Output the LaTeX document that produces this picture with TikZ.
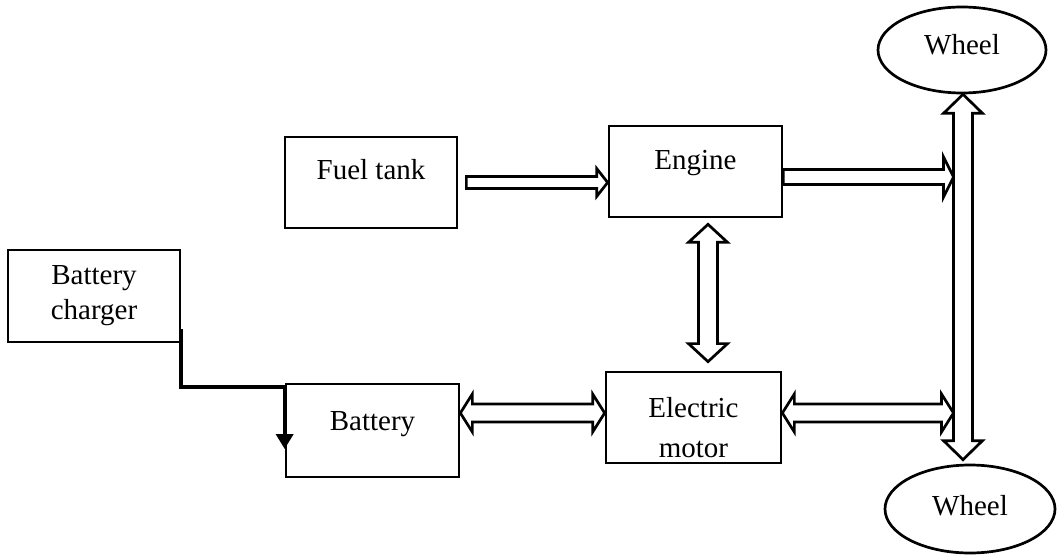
\documentclass[tikz,border=0pt]{standalone}
\usepackage{fontspec}
\setmainfont{Liberation Serif}
\usetikzlibrary{calc, shapes.geometric, arrows.meta}

% Setas em bloco: haste #3, cabeça #4, comprimento da cabeça #5
\newcommand{\setadir}[5]{%
  \draw[bloco] let \p1=(#1), \p2=(#2) in
    (\x1,\y1+#3) -- (\x2-#5,\y1+#3) -- (\x2-#5,\y1+#4) -- (\x2,\y1)
    -- (\x2-#5,\y1-#4) -- (\x2-#5,\y1-#3) -- (\x1,\y1-#3) -- cycle;}
\newcommand{\setadupla}[5]{%
  \draw[bloco] let \p1=(#1), \p2=(#2) in
    (\x1,\y1) -- (\x1+#5,\y1+#4) -- (\x1+#5,\y1+#3) -- (\x2-#5,\y1+#3)
    -- (\x2-#5,\y1+#4) -- (\x2,\y1) -- (\x2-#5,\y1-#4) -- (\x2-#5,\y1-#3)
    -- (\x1+#5,\y1-#3) -- (\x1+#5,\y1-#4) -- cycle;}
\newcommand{\setavert}[5]{%
  \draw[bloco] let \p1=(#1), \p2=(#2) in
    (\x1,\y1) -- (\x1+#4,\y1-#5) -- (\x1+#3,\y1-#5) -- (\x1+#3,\y2+#5)
    -- (\x1+#4,\y2+#5) -- (\x1,\y2) -- (\x1-#4,\y2+#5) -- (\x1-#3,\y2+#5)
    -- (\x1-#3,\y1-#5) -- (\x1-#4,\y1-#5) -- cycle;}

\begin{document}
\begin{tikzpicture}[
    x=0.5pt, y=-0.5pt,
    font=\fontsize{14.5}{17.5}\selectfont,
    caixa/.style={draw, line width=1.35pt, rectangle, inner sep=0pt, align=center},
    roda/.style={draw, line width=1.35pt, ellipse, inner sep=0pt},
    bloco/.style={draw, line width=1.35pt, fill=white, line join=miter},
    carga/.style={line width=2pt, -{Triangle[width=8.5pt, length=7.5pt]}},
]

\useasboundingbox (0,0) rectangle (1059,555);

% Blocos
\node[caixa, minimum width=86pt, minimum height=46pt] (charger) at (94,296) {Battery\\charger};
\node[caixa, minimum width=86pt, minimum height=45.5pt, text height=0pt, text depth=2.5pt] (fuel) at (371,182.5) {Fuel tank};
\node[caixa, minimum width=86.5pt, minimum height=45.5pt, text height=0pt, text depth=1.5pt] (engine) at (695.5,171.5) {Engine};
\node[caixa, minimum width=86.5pt, minimum height=46.5pt, text height=0pt, text depth=0.5pt] (battery) at (372.5,430.5) {Battery};
\node[caixa, minimum width=87.5pt, minimum height=45.5pt] (motor) at (693.5,417.5) {\rule{0pt}{20pt}Electric\\[2.5pt]motor};

% Rodas
\node[roda, minimum width=84pt, minimum height=43pt, text height=5pt, text depth=0pt] (wtop) at (962,50) {Wheel};
\node[roda, minimum width=85pt, minimum height=44pt, text height=6pt, text depth=0pt] (wbot) at (970,509) {Wheel};

% Pontos de ligação
\coordinate (eixo1) at ([xshift=0.5pt]wtop.south);
\coordinate (eixo0) at (eixo1 |- wbot.north);
\coordinate (eixo2) at ([yshift=2pt]eixo0);
\coordinate (eixoE) at ([xshift=-4.75pt]eixo1);
\coordinate (f1) at ([xshift=4pt]fuel.east);
\coordinate (e1) at ([yshift=-2.75pt]engine.east);
\coordinate (em1) at ([xshift=6.25pt,yshift=-3pt]engine.south);
\coordinate (em0) at (em1 |- motor.north);
\coordinate (em2) at ([yshift=4.5pt]em0);
\coordinate (bm0) at (battery.east |- motor.west);
\coordinate (bm1) at ([yshift=2.25pt]bm0);
\coordinate (me1) at ([yshift=2.25pt]motor.east);

% Setas
\setavert{eixo1}{eixo2}{4.75pt}{9.75pt}{9.5pt}
\setadir{f1}{f1 -| engine.west}{3pt}{7pt}{5.5pt}
\setadir{e1}{e1 -| eixoE}{3.75pt}{10pt}{5pt}
\setavert{em1}{em2}{4.75pt}{9.75pt}{9pt}
\setadupla{bm1}{bm1 -| motor.west}{4.5pt}{9.5pt}{6pt}
\setadupla{me1}{me1 -| eixoE}{4.5pt}{9.5pt}{6pt}

% Carregador
\coordinate (c1) at ([yshift=7pt]charger.south east);
\coordinate (c2) at (battery.north west |- 0,387);
\draw[carga] (c1) |- (c2) -- (c2 |- 0,449);

\end{tikzpicture}
\end{document}
